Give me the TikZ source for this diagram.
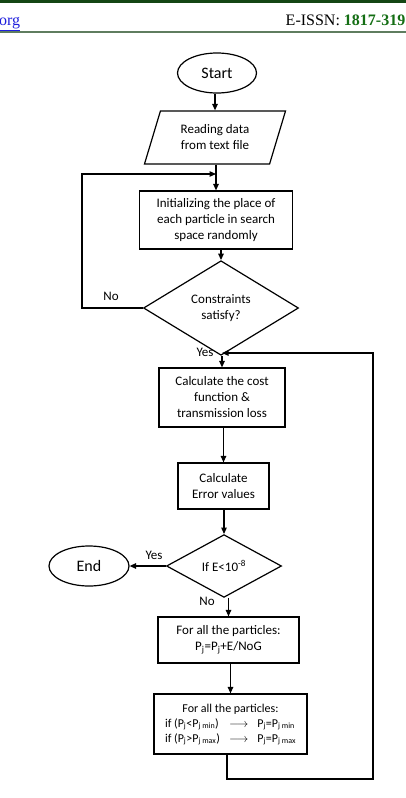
\documentclass[tikz,border=0pt]{standalone}
\usepackage{fontspec}
\setmainfont{Carlito}
\newfontfamily\hdfont{Liberation Serif}
\usetikzlibrary{shapes.geometric,arrows.meta}

\definecolor{hdgreen}{RGB}{20,70,20}
\definecolor{hdrule}{RGB}{95,125,95}
\definecolor{issngreen}{RGB}{20,110,20}
\definecolor{linkblue}{RGB}{30,30,220}

\tikzset{
  flowbox/.style={draw, line width=1.2pt, align=center, inner sep=2pt,
    font=\fontsize{13}{16}\selectfont},
  arr/.style={-{Triangle[length=6.5pt,width=5.5pt]}, line width=1.2pt},
  lbl/.style={font=\fontsize{13}{15}\selectfont, inner sep=1pt}
}

\begin{document}
\begin{tikzpicture}[x=1pt, y=-1pt]
  \useasboundingbox (0,0) rectangle (406,798);
  \clip (0,0) rectangle (406,798);

  % Page header
  \fill[hdgreen] (0,0) rectangle (406,2.5);
  \draw[hdrule, line width=1.5pt] (0,32) -- (406,32);
  \node[anchor=base west, inner sep=0pt, font=\hdfont\fontsize{16}{18}\selectfont,
    text=linkblue] (site) at (-1,25) {\underline{org}};
  \node[anchor=base east, inner sep=0pt, font=\hdfont\fontsize{16}{18}\selectfont]
    (issn) at (405.5,25) {E-ISSN: \textcolor{issngreen}{\textbf{1817-319}}};

  % Main column
  \node[flowbox, ellipse, minimum width=79, minimum height=40,
    font=\fontsize{16}{18}\selectfont] (start) at (217,73) {Start};
  \node[flowbox, trapezium, trapezium left angle=70, trapezium right angle=110,
    trapezium stretches=true, minimum width=142, minimum height=53]
    (read) at (215,137.5) {Reading data\\from text file};
  \node[flowbox, minimum width=153, minimum height=58] (init) at (216,220)
    {Initializing the place of\\each particle in search\\space randomly};
  \node[flowbox, diamond, minimum width=155, minimum height=69] (cons) at (221,308)
    {Constraints\\satisfy?};
  \node[flowbox, minimum width=126, minimum height=59] (cost) at (222,397.5)
    {Calculate the cost\\function \&\\transmission loss};
  \node[flowbox, minimum width=91, minimum height=46] (err) at (223.5,486)
    {Calculate\\Error values};
  \node[flowbox, diamond, minimum width=115, minimum height=53] (test) at (224,566)
    {If E<10\textsuperscript{-8}};
  \node[flowbox, ellipse, minimum width=80, minimum height=40,
    font=\fontsize{16}{18}\selectfont] (stop) at (89,566) {End};
  \node[flowbox, minimum width=141, minimum height=46] (upd) at (228.5,640)
    {For all the particles:\\P\textsubscript{j}=P\textsubscript{j}+E/NoG};
  \node[flowbox, minimum width=153, minimum height=60,
    font=\fontsize{12}{15}\selectfont] (lim) at (230.5,724)
    {\begin{tabular}{@{}l@{\hspace{9pt}}c@{\hspace{9pt}}l@{}}
      \multicolumn{3}{c}{For all the particles:}\\
      if (P\textsubscript{j}<P\textsubscript{j min}) & $\longrightarrow$ & P\textsubscript{j}=P\textsubscript{j min}\\
      if (P\textsubscript{j}>P\textsubscript{j max}) & $\longrightarrow$ & P\textsubscript{j}=P\textsubscript{j max}
    \end{tabular}};

  % Straight arrows down the column
  \foreach \a/\b in {start/read, read/init, init/cons, cons/cost,
                     cost/err, err/test, test/upd, upd/lim} {
    \draw[arr] (\b.north |- \a.south) -- (\b.north);
  }

  % Loop back when constraints fail
  \coordinate (noturn) at (82,174);
  \draw[arr] (cons.west) -| (noturn) -- (init.north |- noturn);
  \node[lbl] (nolbl) at (111,296) {No};
  \node[lbl] (yeslbl) at (205,352) {Yes};

  % Exit
  \draw[arr] (test.west) -- (stop.east);
  \node[lbl] (yesend) at (154,555) {Yes};
  \node[lbl] (noend) at (207,601) {No};

  % Back to the cost step
  \coordinate (backdn) at (227,779);
  \coordinate (backup) at (373,779);
  \coordinate (join) at (222,353);
  \draw[arr] (backdn |- lim.south) -- (backdn) -- (backup) |- (join);

\end{tikzpicture}
\end{document}
